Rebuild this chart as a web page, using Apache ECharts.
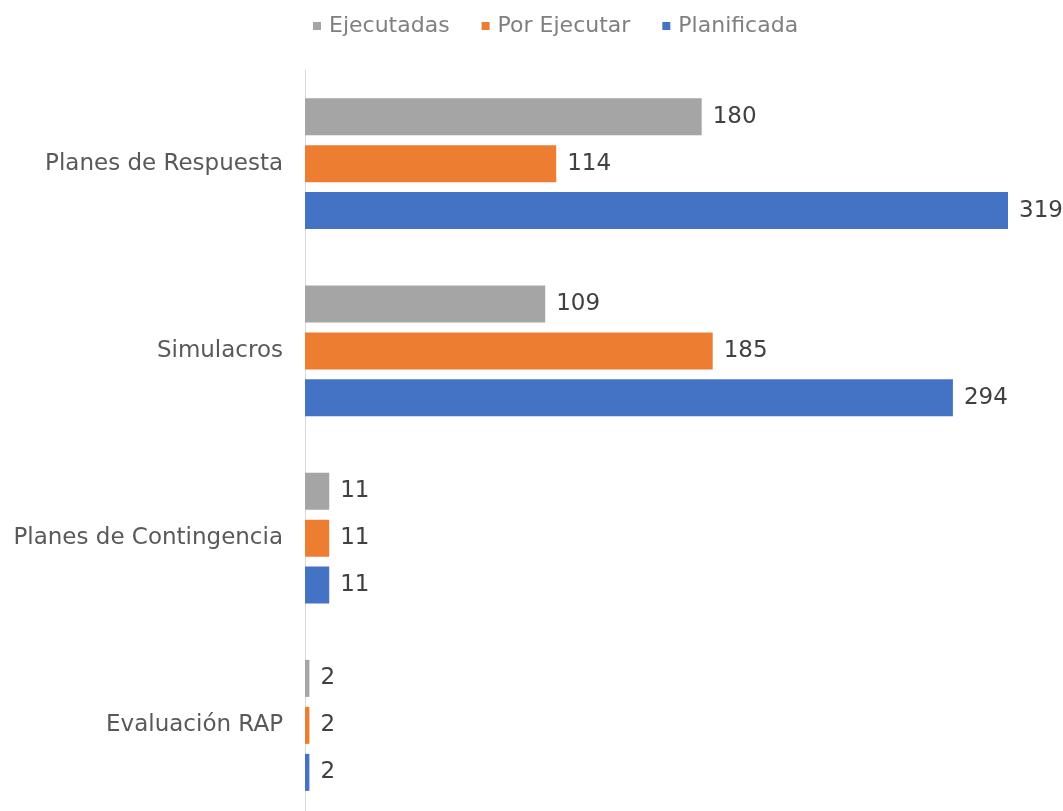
<!DOCTYPE html>
<html>
<head>
<meta charset="utf-8">
<script src="https://cdn.jsdelivr.net/npm/echarts@6/dist/echarts.min.js"></script>
<style>
  html, body { margin: 0; padding: 0; background: #fff; overflow: hidden; }
  #chart { width: 1063px; height: 830px; }
</style>
</head>
<body>
<div id="chart"></div>
<script>
// categories, top to bottom
const categories = ['Planes de Respuesta', 'Simulacros', 'Planes de Contingencia', 'Evaluación RAP']
const seriesNames = ['Ejecutadas', 'Por Ejecutar', 'Planificada']
const ejecutadas = [180, 109, 11, 2]
const porEjecutar = [114, 185, 11, 2]
const planificada = [319, 294, 11, 2]

const colors = ['#A5A5A5', '#ED7D31', '#4472C4']
const seriesData = [ejecutadas, porEjecutar, planificada]

const myChart = echarts.init(document.getElementById('chart'))

// chart is a bit taller than the window so the last group is cut like the original
myChart.setOption({
  animation: false,
  textStyle: { fontFamily: 'DejaVu Sans, sans-serif' },
  legend: {
    top: 10,
    left: 308,
    itemWidth: 8,
    itemHeight: 8,
    itemGap: 32,
    icon: 'rect',
    textStyle: { fontSize: 22, color: '#7F7F7F', fontFamily: 'DejaVu Sans', padding: [0, 0, 0, 3] },
    data: seriesNames
  },
  grid: {
    left: 305,
    right: 55,
    top: 70,
    bottom: 11
  },
  xAxis: {
    type: 'value',
    min: 0,
    max: 319,
    show: false
  },
  yAxis: {
    type: 'category',
    inverse: true,
    data: categories,
    axisTick: { show: false },
    axisLine: { show: true, lineStyle: { color: '#D9D9D9', width: 1 } },
    axisLabel: { fontSize: 23, color: '#595959', margin: 22, fontFamily: 'DejaVu Sans' }
  },
  series: seriesNames.map((name, i) => ({
    name: name,
    type: 'bar',
    data: seriesData[i],
    barWidth: 37,
    barGap: '27%',
    itemStyle: { color: colors[i] },
    label: {
      show: true,
      position: 'right',
      distance: 11,
      fontSize: 23,
      color: '#404040',
      fontFamily: 'DejaVu Sans'
    }
  }))
})
</script>
</body>
</html>
